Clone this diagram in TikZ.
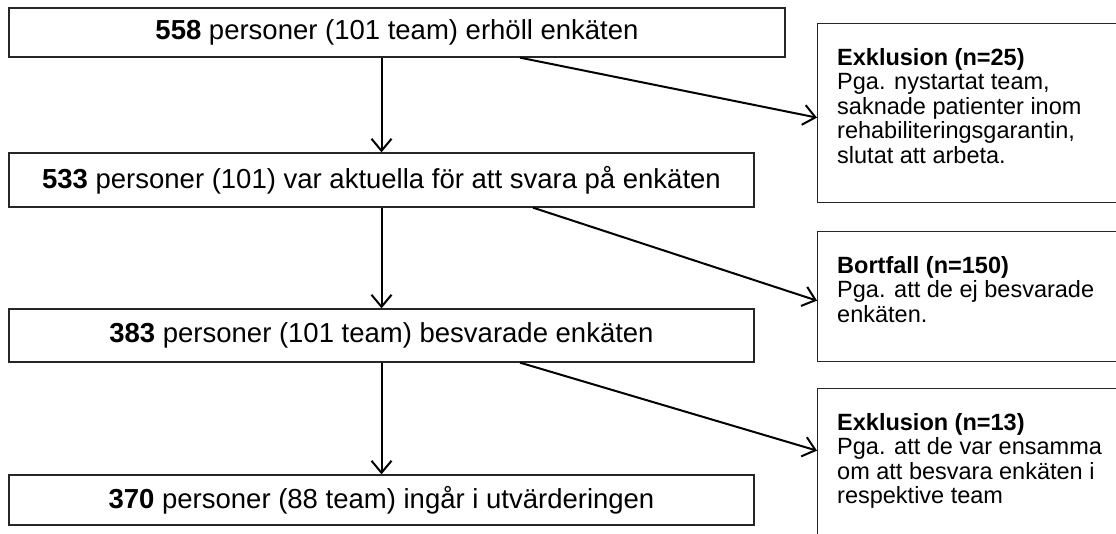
\documentclass[tikz,border=0pt]{standalone}
\usepackage{fontspec}
\setmainfont{Liberation Sans}
\usetikzlibrary{arrows.meta,calc}
\begin{document}
\begin{tikzpicture}[x=1pt,y=-1pt,
  mainbox/.style={draw=black!85, line width=1.3pt, inner sep=0pt, font=\fontsize{27.5}{31}\selectfont},
  rframe/.style={draw=black!85, line width=1.3pt, anchor=north west, minimum width=330pt, inner sep=0pt},
  rtext/.style={anchor=north west, align=left, inner sep=0pt, font=\fontsize{23.5}{24.5}\selectfont},
  arr/.style={line width=2pt, -{Straight Barb[length=12pt,width=20pt,line width=2pt]}}
]
\useasboundingbox (0,0) rectangle (1116,534);
% main column
\node[mainbox, minimum width=776pt, minimum height=49pt] (A) at (397,32.5) {\textbf{558} personer (101 team) erhöll enkäten};
\node[mainbox, minimum width=745pt, minimum height=54pt] (B) at (381.5,180) {\textbf{533} personer (101) var aktuella för att svara på enkäten};
\node[mainbox, minimum width=745pt, minimum height=53pt] (C) at (381.5,335.5) {\textbf{383} personer (101 team) besvarade enkäten};
\node[mainbox, minimum width=745pt, minimum height=50pt] (D) at (381.5,500) {\textbf{370} personer (88 team) ingår i utvärderingen};
% side boxes
\node[rframe, minimum height=179pt] (r1) at (817,23) {};
\node[rframe, minimum height=130pt] (r2) at (817,231) {};
\node[rframe, minimum height=160pt] (r3) at (817,388) {};
\node[rtext] (r1t) at ([xshift=20pt,yshift=-25pt]r1.north west) {\textbf{Exklusion (n=25)}\\Pga. nystartat team,\\saknade patienter inom\\rehabiliteringsgarantin,\\slutat att arbeta.};
\node[rtext] (r2t) at ([xshift=20pt,yshift=-25pt]r2.north west) {\textbf{Bortfall (n=150)}\\Pga. att de ej besvarade\\enkäten.};
\node[rtext] (r3t) at ([xshift=20pt,yshift=-25pt]r3.north west) {\textbf{Exklusion (n=13)}\\Pga. att de var ensamma\\om att besvara enkäten i\\respektive team};
% vertical arrows
\draw[arr] (B.north |- A.south) -- (B.north);
\draw[arr] (B.south) -- (C.north);
\draw[arr] (C.south) -- (D.north);
% diagonal arrows
\draw[arr] ([xshift=123pt]A.south) -- ([yshift=-4.5pt]r1.west);
\draw[arr] ([xshift=151.5pt]B.south) -- ([yshift=-4pt]r2.west);
\draw[arr] ([xshift=138.5pt]C.south) -- ([yshift=18pt]r3.west);
\end{tikzpicture}
\end{document}
